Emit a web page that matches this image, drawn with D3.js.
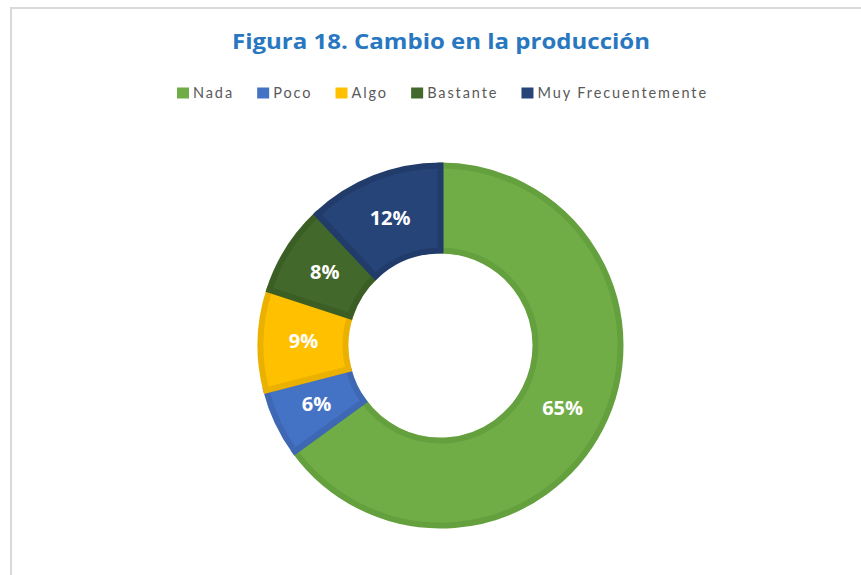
<!DOCTYPE html>
<html>
<head>
<meta charset="utf-8">
<script src="https://cdn.jsdelivr.net/npm/d3@7"></script>
<style>
html,body{margin:0;padding:0;background:#fff;}
svg{display:block;}
</style>
</head>
<body>
<svg id="chart" width="861" height="575"></svg>
<script>
const title = "Figura 18. Cambio en la producción";
const categories = ["Nada", "Poco", "Algo", "Bastante", "Muy Frecuentemente"];
const values = [65, 6, 9, 8, 12];
const colors = ["#70ad47", "#4472c4", "#ffc000", "#43682b", "#264478"];
const strokeColors = ["#64a03d", "#3e68b4", "#ebb100", "#3b5e25", "#213c6b"];

const W = 861, H = 575;
const svg = d3.select("#chart");

// frame
svg.append("line").attr("x1",10).attr("y1",8).attr("x2",W).attr("y2",8)
  .attr("stroke","#d9d9d9").attr("stroke-width",2);
svg.append("line").attr("x1",11).attr("y1",8).attr("x2",11).attr("y2",H)
  .attr("stroke","#d9d9d9").attr("stroke-width",2);

// title
svg.append("text").attr("x",441).attr("y",49).attr("text-anchor","middle")
  .attr("font-family","'Open Sans', Lato, sans-serif").attr("font-weight","bold")
  .attr("font-size",21).attr("fill","#2877c0")
  .attr("textLength",418).attr("lengthAdjust","spacingAndGlyphs")
  .text(title);

// legend
const legend = svg.append("g");
const items = legend.selectAll("g").data(categories).join("g");
items.append("rect").attr("width",12).attr("height",11).attr("y",-5.5)
  .attr("fill",(d,i)=>colors[i]);
const texts = items.append("text").attr("x",16).attr("dy","0.36em")
  .attr("font-family","Lato, 'Open Sans', sans-serif").attr("font-size",14.5)
  .attr("fill","#595959").attr("letter-spacing",1.9).text(d=>d);
const widths = [];
texts.each(function(){ widths.push(16 + this.getComputedTextLength()); });
const totalSpan = 708 - 177;
const gap = (totalSpan - d3.sum(widths)) / (categories.length - 1);
let xPos = 177;
items.attr("transform",(d,i)=>{ const t = `translate(${xPos},93)`; xPos += widths[i] + gap; return t; });

// donut
const cx = 440.5, cy = 345.5;
const outerR = 180, innerR = 95;
const pie = d3.pie().sort(null).value(d=>d)(values);
const arc = d3.arc().innerRadius(innerR).outerRadius(outerR);
const g = svg.append("g").attr("transform",`translate(${cx},${cy})`);
g.selectAll("path").data(pie).join("path")
  .attr("d",arc)
  .attr("fill",(d,i)=>colors[i])
  .attr("stroke",(d,i)=>strokeColors[i])
  .attr("stroke-width",6)
  .attr("stroke-linejoin","miter");

const labelArc = d3.arc().innerRadius((innerR+outerR)/2 - 0.5).outerRadius((innerR+outerR)/2 - 0.5);
g.selectAll("text.lbl").data(pie).join("text").attr("class","lbl")
  .attr("transform",d=>`translate(${labelArc.centroid(d)})`)
  .attr("text-anchor","middle").attr("dy","0.36em")
  .attr("font-family","'Open Sans', Lato, sans-serif").attr("font-weight","bold")
  .attr("font-size",20).attr("fill","#ffffff")
  .text(d=>d.data + "%");
</script>
</body>
</html>
